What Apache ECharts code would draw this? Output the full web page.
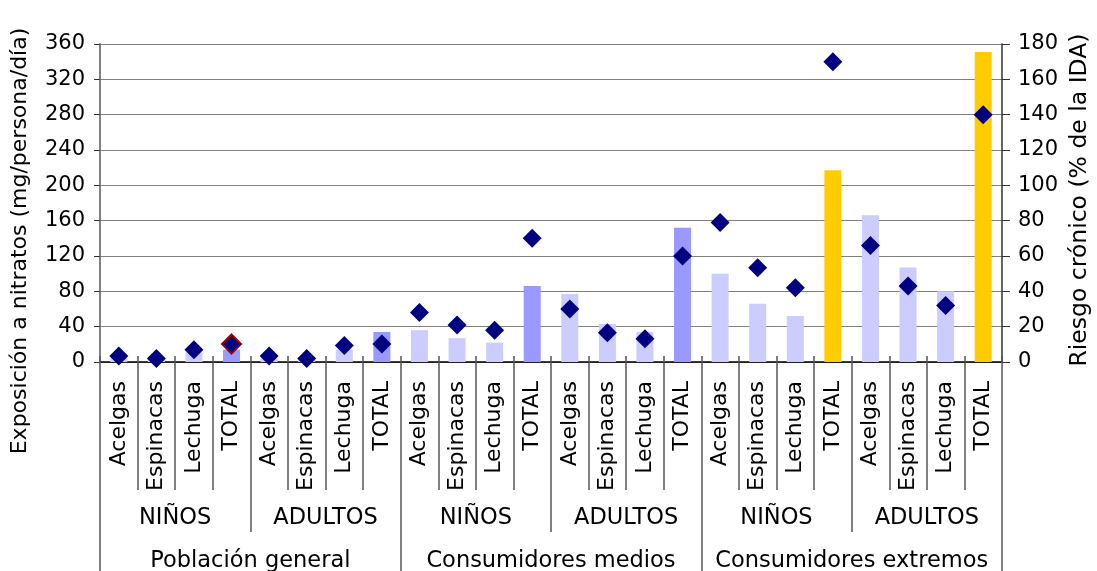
<!DOCTYPE html>
<html>
<head>
<meta charset="utf-8">
<script src="https://cdn.jsdelivr.net/npm/echarts@6/dist/echarts.min.js"></script>
<style>
html,body{margin:0;padding:0;background:#fff;}
#chart{width:1097px;height:571px;}
</style>
</head>
<body>
<div id="chart"></div>
<script>
// ---- data ----
const vegetables = ['Acelgas','Espinacas','Lechuga','TOTAL'];
const ageGroups = ['NIÑOS','ADULTOS','NIÑOS','ADULTOS','NIÑOS','ADULTOS'];
const populations = ['Población general','Consumidores medios','Consumidores extremos'];
const leftTicks = [0,40,80,120,160,200,240,280,320,360];
const rightTicks = [0,20,40,60,80,100,120,140,160,180];
// exposure (mg/persona/día) - bars, left axis
const exposure = [5,3,11,14, 4,3,14,34, 36,27,22,86, 77,43,34,152, 100,66,52,217, 166,107,80,351];
// chronic risk (% de la IDA) - diamonds, right axis
const risk = [3.4,2,7,10.2, 3.4,2,9.4,10.2, 28,21,18,70, 30,16.6,13.2,60, 79,53.4,42,170, 66,43,32,140];

const categories = [];
ageGroups.forEach(() => vegetables.forEach(v => categories.push(v)));

const FONT = 'DejaVu Sans';
const barData = exposure.map((v, i) => {
  const isTotal = vegetables[i % 4] === 'TOTAL';
  const isExtreme = i >= 16;
  const color = isTotal ? (isExtreme ? '#FFCC00' : '#9999FF') : '#CCCCFF';
  return { value: v, itemStyle: { color } };
});
const riskData = risk.map((v, i) => {
  if (i === 3) return { value: v, itemStyle: { borderColor: '#990000', borderWidth: 2 } };
  return v;
});

const chart = echarts.init(document.getElementById('chart'));
const catAxisBase = {
  type: 'category', gridIndex: 0, position: 'bottom',
  axisLine: { show: false, onZero: false },
  splitLine: { show: false }
};
chart.setOption({
  animation: false,
  backgroundColor: '#ffffff',
  grid: { left: 100, right: 95, top: 44, bottom: 209, containLabel: false, outerBoundsMode: 'none' },
  xAxis: [
    Object.assign({}, catAxisBase, {
      data: categories,
      axisLine: { show: true, onZero: false, lineStyle: { color: '#000', width: 1.5 } },
      axisTick: { show: true, interval: 0, length: 128, lineStyle: { color: '#555', width: 1.5 } },
      axisLabel: { interval: 0, rotate: 90, margin: 19, color: '#000', fontFamily: FONT, fontSize: 22 }
    }),
    Object.assign({}, catAxisBase, {
      data: ageGroups,
      axisTick: { show: true, interval: 0, length: 170, lineStyle: { color: '#555', width: 1.5 } },
      axisLabel: { interval: 0, margin: 145, color: '#000', fontFamily: FONT, fontSize: 22.5 }
    }),
    Object.assign({}, catAxisBase, {
      data: populations,
      axisTick: { show: true, interval: 0, length: 230, lineStyle: { color: '#555', width: 1.5 } },
      axisLabel: { interval: 0, margin: 188, color: '#000', fontFamily: FONT, fontSize: 22.5 }
    }),
    Object.assign({}, catAxisBase, {
      data: categories,
      axisTick: { show: true, interval: 0, inside: true, length: 6, lineStyle: { color: '#555', width: 1.5 } },
      axisLabel: { show: false }
    })
  ],
  yAxis: [
    {
      type: 'value', min: leftTicks[0], max: leftTicks[leftTicks.length - 1], interval: 40,
      position: 'left',
      axisLine: { show: true, lineStyle: { color: '#808080', width: 2 } },
      axisTick: { show: true, length: 6, lineStyle: { color: '#333' } },
      axisLabel: { margin: 15, color: '#000', fontFamily: FONT, fontSize: 21 },
      splitLine: { show: true, lineStyle: { color: '#808080', width: 1 } }
    },
    {
      type: 'value', min: rightTicks[0], max: rightTicks[rightTicks.length - 1], interval: 20,
      position: 'right',
      axisLine: { show: true, lineStyle: { color: '#333', width: 1.5 } },
      axisTick: { show: true, length: 8, lineStyle: { color: '#333' } },
      axisLabel: { margin: 16, color: '#000', fontFamily: FONT, fontSize: 21 },
      splitLine: { show: false }
    }
  ],
  series: [
    {
      name: 'Exposición', type: 'bar', xAxisIndex: 0, yAxisIndex: 0,
      data: barData, barWidth: 17
    },
    {
      name: 'Riesgo', type: 'scatter', xAxisIndex: 0, yAxisIndex: 1,
      data: riskData, symbol: 'diamond', symbolSize: 19,
      itemStyle: { color: '#000080', opacity: 1 }, z: 5
    }
  ],
  graphic: [
    {
      type: 'text', x: 20, y: 241, rotation: Math.PI / 2,
      style: { text: 'Exposición a nitratos (mg/persona/día)', fontFamily: FONT, fontSize: 22,
               fill: '#000', align: 'center', verticalAlign: 'middle' }
    },
    {
      type: 'text', x: 1080, y: 200, rotation: Math.PI / 2,
      style: { text: 'Riesgo crónico (% de la IDA)', fontFamily: FONT, fontSize: 23.5,
               fill: '#000', align: 'center', verticalAlign: 'middle' }
    }
  ]
});
</script>
</body>
</html>
